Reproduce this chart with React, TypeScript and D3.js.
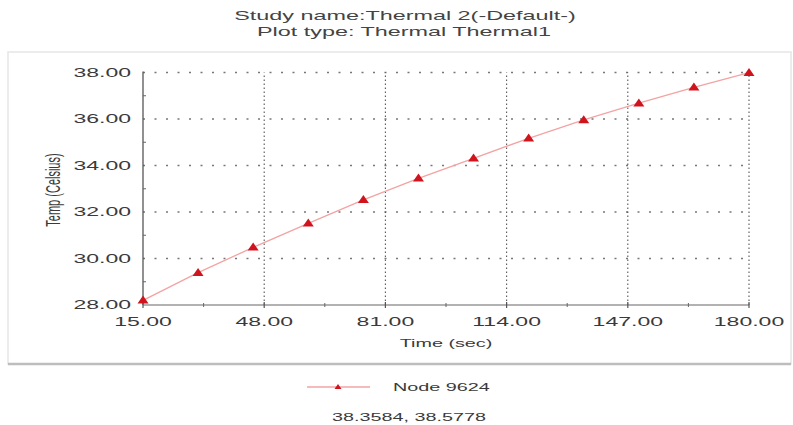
import * as d3 from "d3";
import React from "react";

// values
const timeSec = [15, 30, 45, 60, 75, 90, 105, 120, 135, 150, 165, 180];
const node9624 = [28.2, 29.39, 30.48, 31.51, 32.52, 33.45, 34.31, 35.17, 35.96, 36.68, 37.36, 37.99];
const xTicks = [15, 48, 81, 114, 147, 180];
const xMinor = [31.5, 64.5, 97.5, 130.5, 163.5];
const yTicks = [28, 30, 32, 34, 36, 38];
const yMinor = [29, 31, 33, 35, 37];
const titleLines = ["Study name:Thermal 2(-Default-)", "Plot type: Thermal Thermal1"];
const seriesName = "Node 9624";
const cursorText = "38.3584, 38.5778";

const W = 793;
const H = 425;
const SX = 1.8; // the source picture is stretched sideways
const FONT = "'Liberation Sans', Arial, sans-serif";

const Txt = ({ x, y, size, anchor = "middle", fill = "#3a3a3a", children, rotate = 0 }: any) => (
  <text
    transform={`translate(${x},${y}) scale(${SX},1)${rotate ? ` rotate(${rotate})` : ""}`}
    textAnchor={anchor}
    dominantBaseline="central"
    fontFamily={FONT}
    fontSize={size}
    fill={fill}
  >
    {children}
  </text>
);

const tri = (cx: number, cy: number, w: number, h: number) =>
  `M${cx},${cy - h * 0.6}L${cx + w / 2},${cy + h * 0.4}L${cx - w / 2},${cy + h * 0.4}Z`;

export default function App() {
  const x = d3.scaleLinear().domain([15, 180]).range([143, 749]);
  const y = d3.scaleLinear().domain([28, 38]).range([305, 72.5]);

  const pts = timeSec.map((t, i) => [t, node9624[i]] as [number, number]);
  const line = d3
    .line<[number, number]>()
    .x((d) => x(d[0]))
    .y((d) => y(d[1]));

  const [x0, x1] = x.range();
  const [y0, y1] = y.range();

  return (
    <svg
      width={W}
      height={H}
      style={{ position: "absolute", left: 0, top: 0, display: "block", background: "#fff" }}
    >
      {/* titles */}
      <Txt x={405} y={16} size={13} fill="#444">{titleLines[0]}</Txt>
      <Txt x={404} y={32} size={13} fill="#444">{titleLines[1]}</Txt>

      {/* panel frame */}
      <rect x={8} y={52} width={783} height={312} fill="#fff" stroke="#e6e6e6" strokeWidth={1.5} />
      <line x1={8} x2={791} y1={364} y2={364} stroke="#bdbdbd" strokeWidth={2.5} />

      {/* grid */}
      {yTicks.filter((v) => v !== 28).map((v) => (
        <line key={"gy" + v} x1={x0} x2={x1} y1={y(v)} y2={y(v)}
          stroke="#777" strokeWidth={1.3} strokeDasharray="2,9.5" />
      ))}
      {xTicks.filter((v) => v !== 15).map((v) => (
        <line key={"gx" + v} x1={x(v)} x2={x(v)} y1={y0} y2={y1}
          stroke="#555" strokeWidth={1.1} strokeDasharray="1.5,2.5" />
      ))}

      {/* axes */}
      <line x1={x0} x2={x0} y1={y0} y2={y1 - 1} stroke="#555" strokeWidth={1.3} />
      <line x1={x0} x2={x1} y1={y0} y2={y0} stroke="#999" strokeWidth={1.3} />
      {xTicks.map((v) => (
        <line key={"tx" + v} x1={x(v)} x2={x(v)} y1={y0 - 3} y2={y0 + 3} stroke="#555" strokeWidth={1.2} />
      ))}
      {xMinor.map((v) => (
        <line key={"mx" + v} x1={x(v)} x2={x(v)} y1={y0 - 2} y2={y0 + 2} stroke="#666" strokeWidth={1} />
      ))}
      {yMinor.map((v) => (
        <line key={"my" + v} x1={x0} x2={x0 + 3} y1={y(v)} y2={y(v)} stroke="#666" strokeWidth={1} />
      ))}

      {/* tick labels */}
      {yTicks.map((v) => (
        <Txt key={"ly" + v} x={131} y={y(v)} size={12.8} anchor="end">{v.toFixed(2)}</Txt>
      ))}
      {xTicks.map((v) => (
        <Txt key={"lx" + v} x={x(v)} y={y0 + 17} size={12.8}>{v.toFixed(2)}</Txt>
      ))}

      {/* axis titles */}
      <Txt x={446} y={343} size={11}>Time (sec)</Txt>
      <Txt x={53} y={190} size={11} rotate={-90}>Temp (Celsius)</Txt>

      {/* series */}
      <path d={line(pts) || ""} fill="none" stroke="#f3a3a3" strokeWidth={1.3} />
      {pts.map((d, i) => (
        <path key={"m" + i} d={tri(x(d[0]), y(d[1]), 11, 8)} fill="#d0141e" />
      ))}

      {/* legend */}
      <line x1={307} x2={370} y1={387} y2={387} stroke="#f3a3a3" strokeWidth={1.3} />
      <path d={tri(338, 387, 7, 5)} fill="#d0141e" />
      <Txt x={393} y={387} size={11} anchor="start">{seriesName}</Txt>
      <Txt x={409} y={417} size={11}>{cursorText}</Txt>
    </svg>
  );
}
